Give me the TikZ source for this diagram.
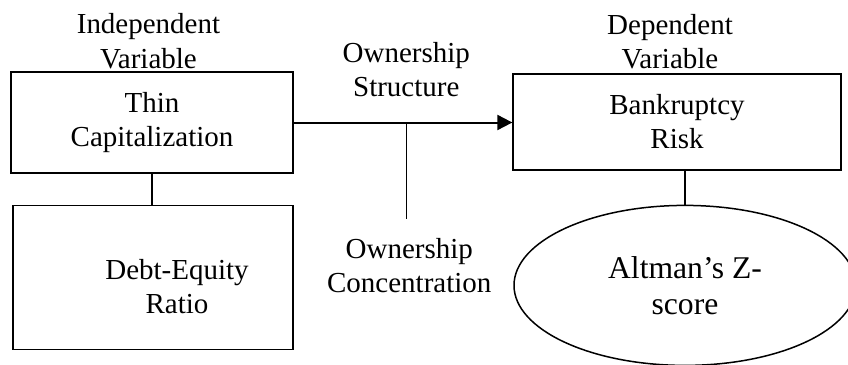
\documentclass[tikz,border=0pt]{standalone}
\usepackage{fontspec}
\setmainfont{Liberation Serif}
\usetikzlibrary{arrows.meta,positioning,shapes.geometric}
\tikzset{
  varbox/.style={draw=black, line width=0.26mm, align=center, inner sep=0pt},
  plain/.style={align=center, inner sep=1mm},
  zbubble/.style={ellipse, draw=black, line width=0.3mm, align=center, inner sep=0pt, minimum width=68.4mm, minimum height=32mm, font=\fontsize{18}{20.5}\selectfont},
  link/.style={line width=0.26mm},
  thinlink/.style={line width=0.2mm},
  arrow/.style={-{Triangle[length=3mm, width=3mm]}, line width=0.4mm}
}

\begin{document}
\begin{tikzpicture}[font=\fontsize{16.5}{19.4}\selectfont]
    \useasboundingbox (0,0) rectangle (169.6mm,-73mm);
    \node[varbox, minimum width=56.4mm, minimum height=20.2mm] (tc) at (30.4mm,-24.5mm) {Thin\\Capitalization};
    \node[varbox, minimum width=56mm, minimum height=28.8mm, below=6.2mm of tc, xshift=0.2mm] (de) {};
    \node[plain] (deText) at ([xshift=4.8mm, yshift=-1.8mm]de.center) {Debt-Equity\\Ratio};
    \node[varbox, minimum width=65.6mm, minimum height=19.2mm] (br) at (135.4mm,-24.4mm) {Bankruptcy\\Risk};
    \node[zbubble, below=6.8mm of br, xshift=1.6mm] (zscore) {Altman's Z-\\score};
    \node[plain, above=-0.5mm of tc, xshift=-0.7mm] (indep) {Independent\\Variable};
    \node[plain, above=-0.2mm of br, xshift=-1.4mm] (dep) {Dependent\\Variable};

    \draw[arrow] (tc.east) -- (tc.east -| br.west) coordinate[pos=0.515] (split);
    \node[plain] (ownStruct) at ([yshift=10.5mm]split) {Ownership\\Structure};
    \node[plain] (ownConc) at ([xshift=0.6mm, yshift=-28.6mm]split) {Ownership\\Concentration};
    \coordinate[below=19.2mm of split] (splitEnd);

    \draw[thinlink] (split) -- (splitEnd);
    \draw[link] (tc.south) -- (tc.south |- de.north);
    \draw[link] (zscore.north) -- (zscore.north |- br.south);
  \end{tikzpicture}
\end{document}
